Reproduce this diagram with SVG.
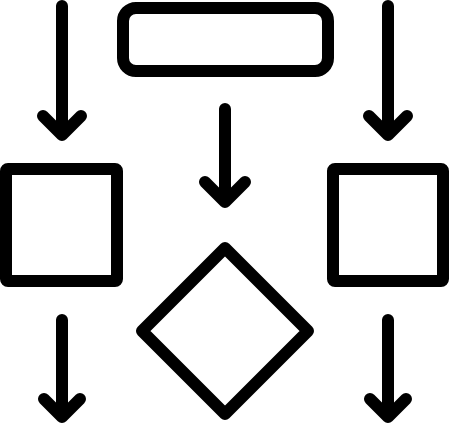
<svg xmlns="http://www.w3.org/2000/svg" width="450" height="424" viewBox="0 0 450 424">
<style>
.s{fill:none;stroke:#000;stroke-width:12;stroke-linecap:round;stroke-linejoin:round}
</style>
<rect width="450" height="424" fill="#fff"/>
<g id="start"><rect class="s" x="123" y="8" width="205" height="63" rx="13"/></g>
<g id="left-box"><rect class="s" x="6" y="169" width="111" height="112" rx="2"/></g>
<g id="right-box"><rect class="s" x="333" y="169" width="110" height="112" rx="2"/></g>
<g id="decision"><polygon class="s" points="225,248 308,331 225,414 142,331"/></g>
<g id="connectors" class="s">
<path d="M62 6V134M43 116L62 135L81 116"/>
<path d="M388 6V134M369 116L388 135L407 116"/>
<path d="M225 109V201M205 182L225 202L245 182"/>
<path d="M62 320V416M44 399L62 417L80 399"/>
<path d="M388 320V416M370 399L388 417L406 399"/>
</g>
</svg>
